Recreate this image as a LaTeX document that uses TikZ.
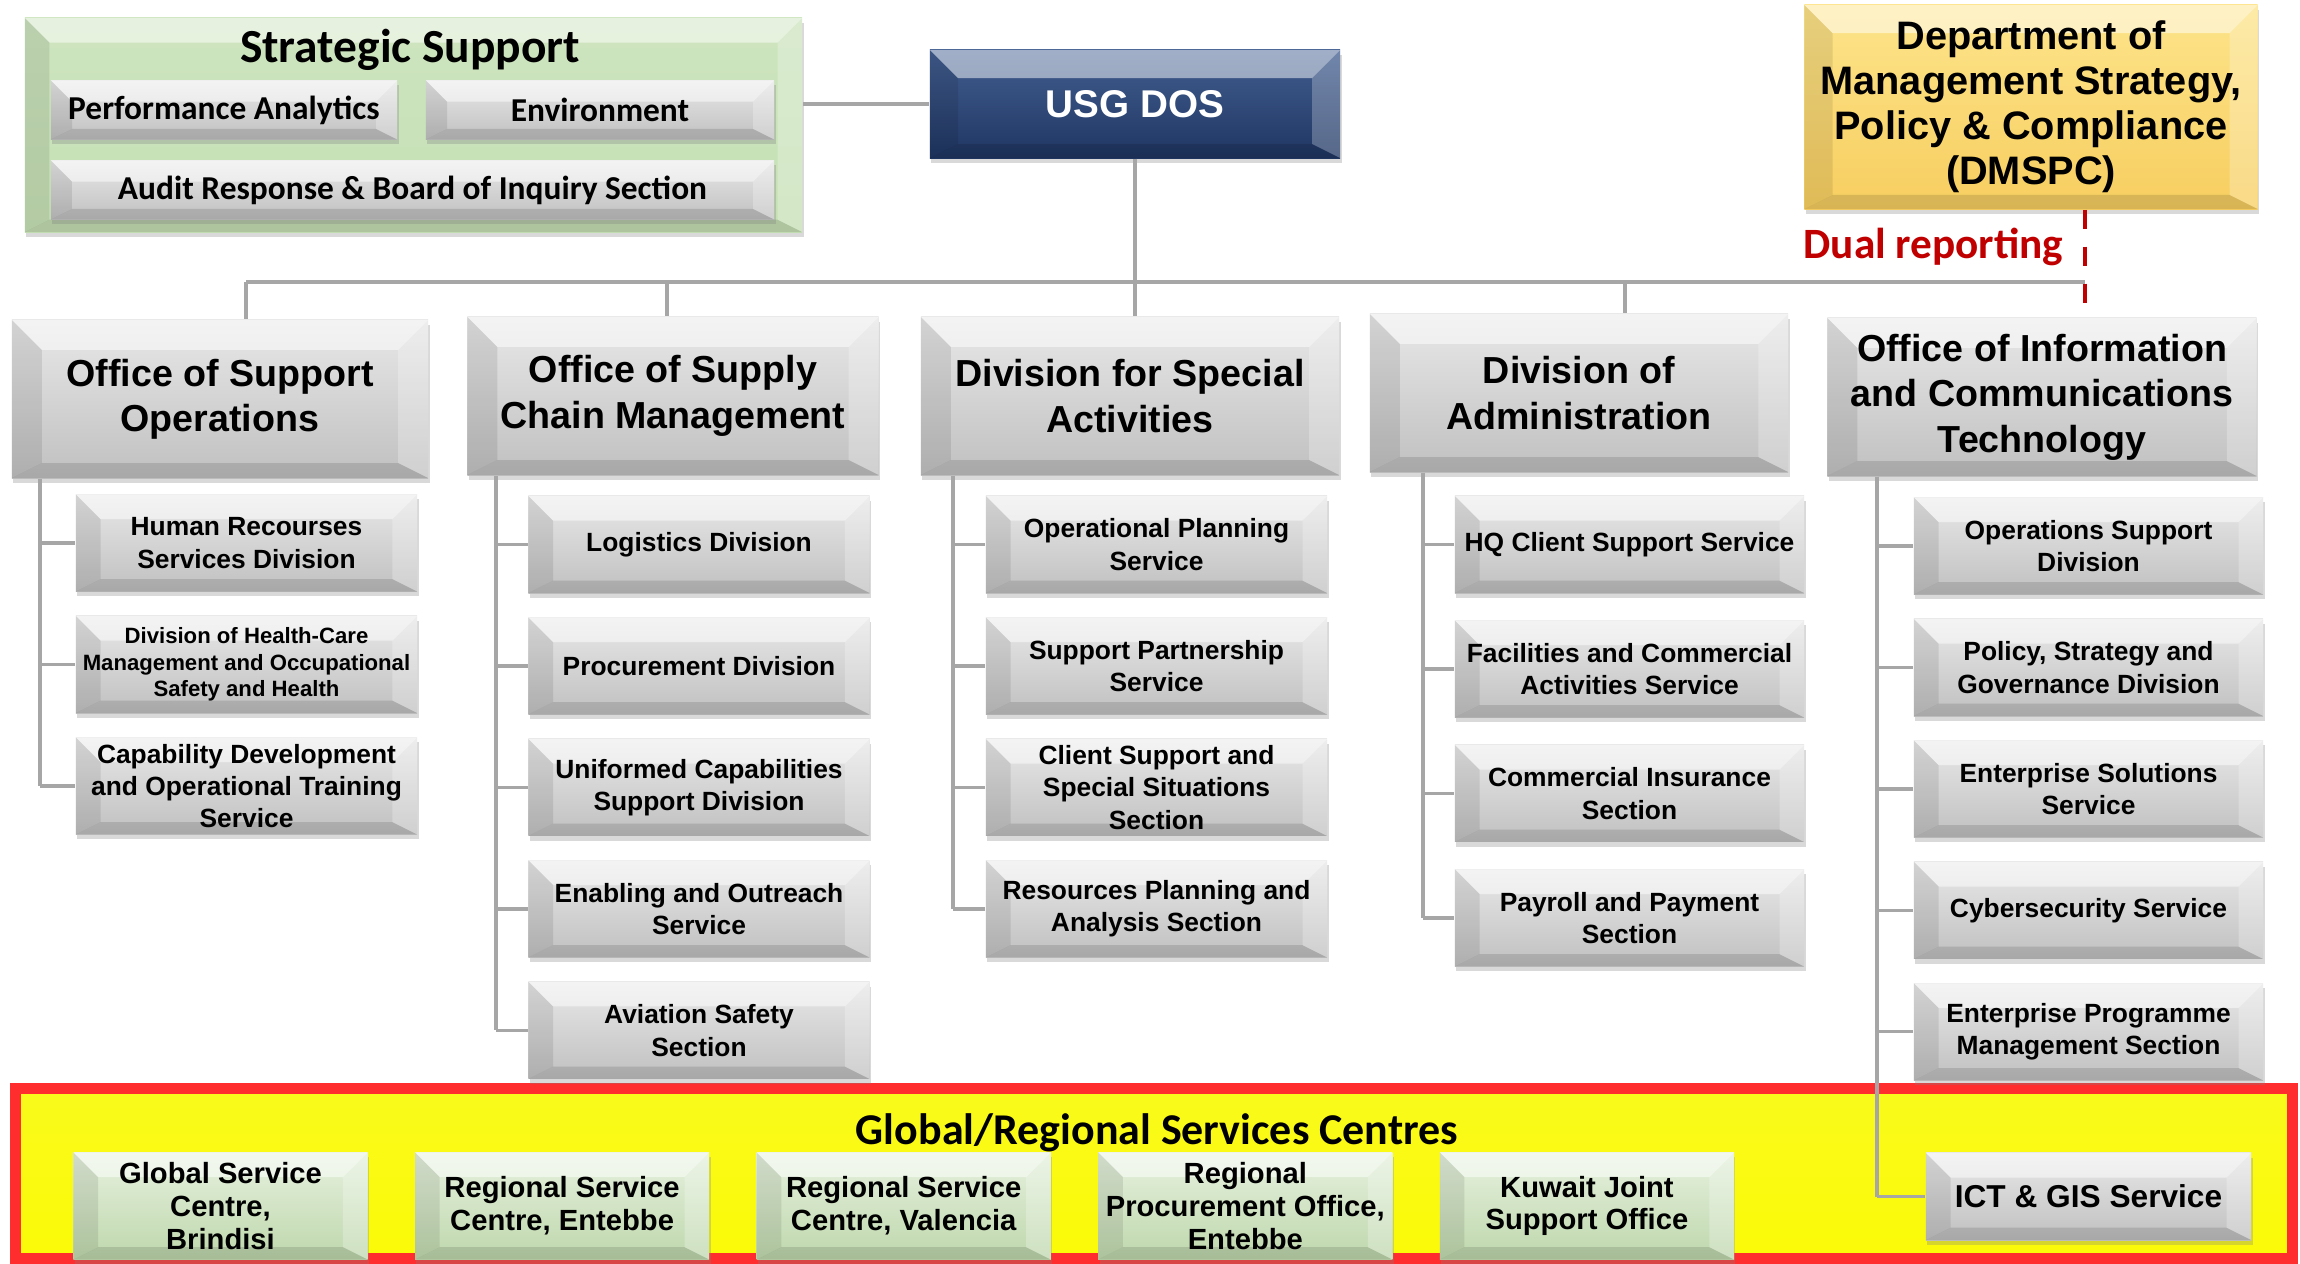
\documentclass[tikz,border=0pt]{standalone}
\usepackage{fontspec}
\setmainfont{Liberation Sans}
\newfontfamily\calib{Carlito}
\usetikzlibrary{positioning,shadows}

\definecolor{boxtop}{RGB}{232,232,232}
\definecolor{boxbot}{RGB}{192,192,192}
\definecolor{linkgray}{RGB}{166,166,166}
\definecolor{navytop}{RGB}{66,94,144}
\definecolor{navybot}{RGB}{31,54,98}
\definecolor{goldtop}{RGB}{253,228,138}
\definecolor{goldbot}{RGB}{247,206,96}
\definecolor{sgreen}{RGB}{197,224,180}
\definecolor{gtop}{RGB}{230,241,222}
\definecolor{gbot}{RGB}{190,215,172}
\definecolor{dualred}{RGB}{192,0,0}
\definecolor{bandred}{RGB}{255,45,45}
\definecolor{bandyel}{RGB}{250,250,8}

\tikzset{
  bevel/.style={path picture={
    \coordinate (p1) at (path picture bounding box.north west);
    \coordinate (p2) at (path picture bounding box.north east);
    \coordinate (p3) at (path picture bounding box.south east);
    \coordinate (p4) at (path picture bounding box.south west);
    \coordinate (q1) at ([xshift=#1,yshift=-#1]p1);
    \coordinate (q2) at ([xshift=-#1,yshift=-#1]p2);
    \coordinate (q3) at ([xshift=-#1,yshift=.5*#1]p3);
    \coordinate (q4) at ([xshift=#1,yshift=.5*#1]p4);
    \fill[white,opacity=.5] (p1) -- (p2) -- (q2) -- (q1) -- cycle;
    \fill[black,opacity=.09] (p1) -- (q1) -- (q4) -- (p4) -- cycle;
    \fill[white,opacity=.25] (p2) -- (p3) -- (q3) -- (q2) -- cycle;
    \fill[black,opacity=.12] (p4) -- (q4) -- (q3) -- (p3) -- cycle;
  }},
  unitbox/.style={bevel=7pt, top color=boxtop, bottom color=boxbot, inner sep=0pt, align=center,
    drop shadow={shadow xshift=.4pt, shadow yshift=-1.4pt, opacity=.3}},
  headbox/.style={unitbox, bevel=8.5pt, minimum width=4.16cm, minimum height=1.58cm,
    font=\bfseries\fontsize{10.7}{12.9}\selectfont},
  subbox/.style={unitbox, minimum width=3.41cm, minimum height=.97cm,
    font=\bfseries\fontsize{7.5}{9.2}\selectfont},
  ssbox/.style={unitbox, bevel=6pt, minimum height=.59cm, font=\calib\bfseries\fontsize{9.5}{11}\selectfont},
  centrebox/.style={unitbox, top color=gtop, bottom color=gbot, minimum width=2.94cm, minimum height=1.07cm,
    font=\bfseries\fontsize{8.3}{9.3}\selectfont},
  link/.style={draw=linkgray, line width=.9pt},
  busline/.style={link, line width=1.3pt},
  dualline/.style={draw=dualred, line width=1.2pt, dash pattern=on 5.5pt off 5pt}
}

\begin{document}
\begin{tikzpicture}[x=0.01cm, y=-0.01cm]
\useasboundingbox (0,0) rectangle (2300,1264);

\node[draw=bandred, line width=3.3pt, top color=bandyel!92!white, bottom color=bandyel,
  minimum width=22.76cm, minimum height=1.7cm] (band) at (1154,1173.5) {};
\node[font=\calib\bfseries\fontsize{12.5}{14}\selectfont] (bandtitle) at (1157,1133) {Global/Regional Services Centres};

\node[unitbox, bevel=7pt, top color=sgreen!85!white, bottom color=sgreen, minimum width=7.77cm, minimum height=2.14cm] (ss) at (413.5,125) {};
\node[font=\calib\bfseries\fontsize{13.5}{15}\selectfont] (sstitle) at (410,50) {Strategic Support};
\node[ssbox, minimum width=3.46cm] (pa) at (224,110) {Performance Analytics};
\node[ssbox, minimum width=3.48cm] (env) at (600,110) {Environment};
\node[ssbox, minimum width=7.23cm] (audit) at (412.5,190) {Audit Response \& Board of Inquiry Section};

\node[unitbox, bevel=8pt, top color=navytop, bottom color=navybot, text=white, minimum width=4.1cm, minimum height=1.08cm,
  font=\bfseries\fontsize{11}{13}\selectfont] (usg) at (1135,104) {USG DOS};
\node[unitbox, bevel=8pt, top color=goldtop, bottom color=goldbot, minimum width=4.53cm, minimum height=2.04cm,
  font=\bfseries\fontsize{11.3}{12.8}\selectfont] (dmspc) at (2031,107) {Department of\\Management Strategy,\\Policy \& Compliance\\(DMSPC)};
\node[anchor=east, inner sep=0pt, text=dualred, font=\calib\bfseries\fontsize{12.3}{14}\selectfont] (dualtxt) at (2064,247) {Dual reporting};

\node[headbox] (oso) at (220,399) {Office of Support\\Operations};
\node[headbox, minimum width=4.11cm] (oscm) at (673,396) {Office of Supply\\Chain Management};
\node[headbox, minimum width=4.18cm] (dsa) at (1130,396) {Division for Special\\Activities};
\node[headbox, minimum width=4.18cm] (doa) at (1579,393) {Division of\\Administration};
\node[headbox, minimum width=4.29cm] (oict) at (2042,397) {Office of Information\\and Communications\\Technology};

\node[subbox] (hr) at (246.5,543) {Human Recourses\\Services Division};
\node[subbox, below=.23cm of hr, font=\bfseries\fontsize{6.3}{7.6}\selectfont] (hc) {Division of Health-Care\\Management and Occupational\\Safety and Health};
\node[subbox, below=.23cm of hc] (cap) {Capability Development\\and Operational Training\\Service};

\node[subbox] (log) at (699,544.5) {Logistics Division};
\node[subbox, below=.23cm of log] (proc) {Procurement Division};
\node[subbox, below=.23cm of proc] (ucsd) {Uniformed Capabilities\\Support Division};
\node[subbox, below=.23cm of ucsd] (eos) {Enabling and Outreach\\Service};
\node[subbox, below=.23cm of eos] (ass) {Aviation Safety\\Section};

\node[subbox] (ops) at (1156.5,544.5) {Operational Planning\\Service};
\node[subbox, below=.23cm of ops] (sps) {Support Partnership\\Service};
\node[subbox, below=.23cm of sps] (csss) {Client Support and\\Special Situations\\Section};
\node[subbox, below=.23cm of csss] (rpas) {Resources Planning and\\Analysis Section};

\node[subbox, minimum width=3.49cm] (hq) at (1629.5,544.5) {HQ Client Support Service};
\node[subbox, minimum width=3.49cm, below=.26cm of hq] (fac) {Facilities and Commercial\\Activities Service};
\node[subbox, minimum width=3.49cm, below=.26cm of fac] (cis) {Commercial Insurance\\Section};
\node[subbox, minimum width=3.49cm, below=.26cm of cis] (pay) {Payroll and Payment\\Section};

\node[subbox, minimum width=3.49cm] (osd) at (2088.5,546) {Operations Support\\Division};
\node[subbox, minimum width=3.49cm, below=.23cm of osd] (psg) {Policy, Strategy and\\Governance Division};
\node[subbox, minimum width=3.49cm, below=.23cm of psg] (ess) {Enterprise Solutions\\Service};
\node[subbox, minimum width=3.49cm, below=.23cm of ess] (cyb) {Cybersecurity Service};
\node[subbox, minimum width=3.49cm, below=.23cm of cyb] (epms) {Enterprise Programme\\Management Section};
\node[subbox, minimum width=3.25cm, minimum height=.87cm, font=\bfseries\fontsize{9}{11}\selectfont] (ict) at (2088.5,1196.5) {ICT \& GIS Service};

\node[centrebox] (gsc) at (220.5,1206) {Global Service\\Centre,\\Brindisi};
\node[centrebox, right=.46cm of gsc] (rsce) {Regional Service\\Centre, Entebbe};
\node[centrebox, right=.46cm of rsce] (rscv) {Regional Service\\Centre, Valencia};
\node[centrebox, right=.46cm of rscv] (rpo) {Regional\\Procurement Office,\\Entebbe};
\node[centrebox, right=.46cm of rpo] (kjso) {Kuwait Joint\\Support Office};

\coordinate (busL) at (246,282);
\coordinate (busB) at (667,282);
\coordinate (busD) at (1625,282);
\coordinate (busR) at (2085,282);
\coordinate (sp1) at (40,0 |- oso.south);
\coordinate (sp2) at (496,0 |- oscm.south);
\coordinate (sp3) at (953,0 |- dsa.south);
\coordinate (sp4) at (1423,0 |- doa.south);
\coordinate (sp5) at (1877,0 |- oict.south);

\draw[link] (usg.west) -- (usg.west -| ss.east);
\draw[busline] (busL) -- (busR);
\draw[link] (usg.south) -- (usg.south |- dsa.north);
\draw[link] (busL) -- (busL |- oso.north);
\draw[link] (busB) -- (busB |- oscm.north);
\draw[link] (busD) -- (busD |- doa.north);
\draw[dualline] (busR |- dmspc.south) -- (busR |- oict.north);

\draw[link] (sp1) -- (sp1 |- cap.west);
\foreach \s in {hr,hc,cap} \draw[link] (sp1 |- \s.west) -- (\s.west);
\draw[link] (sp2) -- (sp2 |- ass.west);
\foreach \s in {log,proc,ucsd,eos,ass} \draw[link] (sp2 |- \s.west) -- (\s.west);
\draw[link] (sp3) -- (sp3 |- rpas.west);
\foreach \s in {ops,sps,csss,rpas} \draw[link] (sp3 |- \s.west) -- (\s.west);
\draw[link] (sp4) -- (sp4 |- pay.west);
\foreach \s in {hq,fac,cis,pay} \draw[link] (sp4 |- \s.west) -- (\s.west);
\draw[link] (sp5) -- (sp5 |- ict.west);
\foreach \s in {osd,psg,ess,cyb,epms,ict} \draw[link] (sp5 |- \s.west) -- (\s.west);
\end{tikzpicture}
\end{document}
